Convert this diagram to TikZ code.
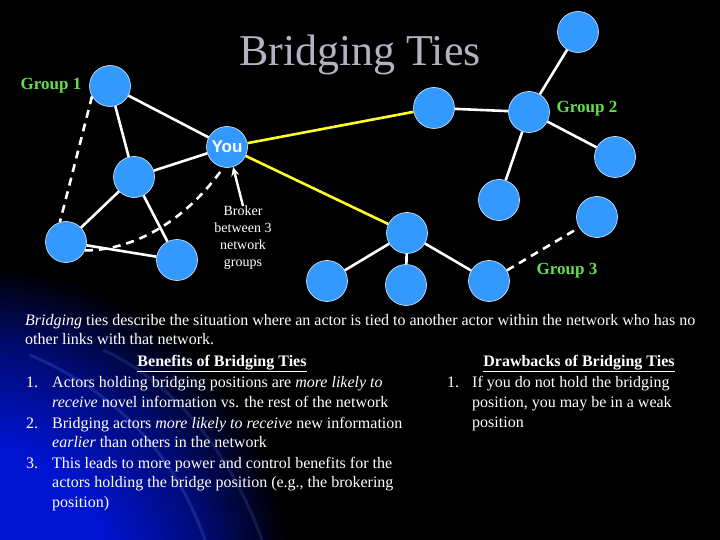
\documentclass[tikz,border=0pt]{standalone}
\usepackage{fontspec}
\setmainfont{Liberation Serif}
\newfontfamily\sansfont{Liberation Sans}
\usetikzlibrary{arrows.meta}
\definecolor{nodeblue}{RGB}{51,153,255}
\definecolor{grpgreen}{RGB}{102,221,80}
\definecolor{titlegray}{RGB}{178,178,194}
\definecolor{tieyellow}{RGB}{255,255,40}
\definecolor{bgblue}{RGB}{0,20,210}
\definecolor{bgmid}{RGB}{0,10,110}
\definecolor{swoosh}{RGB}{90,130,255}
\pgfdeclareradialshading{slideglow}{\pgfpoint{0bp}{0bp}}{color(0bp)=(bgblue); color(11bp)=(bgblue); color(19bp)=(bgmid); color(25bp)=(black); color(50bp)=(black)}
\begin{document}
\begin{tikzpicture}[x=1pt,y=-1pt,
  actor/.style={circle,fill=nodeblue,draw=white!85!nodeblue,line width=0.6pt,minimum size=41pt,inner sep=0pt},
  tie/.style={white,line width=2.6pt},
  weaktie/.style={white,line width=2.6pt,dash pattern=on 8pt off 6pt},
  bridge/.style={tieyellow,line width=2.6pt},
  grplabel/.style={text=grpgreen,font=\fontsize{17}{19}\selectfont\bfseries,inner sep=0pt},
  body/.style={text=white,font=\fontsize{16}{19}\selectfont,anchor=base west,inner sep=0pt},
  head/.style={text=white,font=\fontsize{16}{19}\selectfont\bfseries,anchor=base,inner sep=0pt},
  titlefont/.style={font=\fontsize{44}{48}\selectfont,inner sep=0pt},
  youlabel/.style={font=\sansfont\fontsize{17}{19}\selectfont\bfseries,text=white}]
% background
\fill[black] (0,0) rectangle (720,540);
\begin{scope}
\clip (0,0) rectangle (720,540);
\shade[shading=slideglow] (-30,585) circle (320);
\draw[swoosh,opacity=0.22,line width=3pt] (30,355) .. controls (100,385) and (170,440) .. (205,540);
\draw[swoosh,opacity=0.18,line width=3pt] (103,350) .. controls (170,380) and (230,450) .. (262,540);
\end{scope}
\useasboundingbox (0,0) rectangle (720,540);
% title
\node[titlefont,text=titlegray] (title) at (360,55) {Bridging Ties};
% node positions
\coordinate (p1a) at (110,86);
\coordinate (pyou) at (227,147);
\coordinate (p1b) at (134,177);
\coordinate (p1c) at (66,242);
\coordinate (p1d) at (177,260);
\coordinate (p2a) at (434,108);
\coordinate (p2b) at (529,112);
\coordinate (p2c) at (578,32);
\coordinate (p2d) at (615,157);
\coordinate (p2e) at (499,200);
\coordinate (p3a) at (407,233);
\coordinate (p3b) at (327,281);
\coordinate (p3c) at (406,285);
\coordinate (p3d) at (489,281);
\coordinate (p3e) at (597,217);
% group 1
\node[actor] (g1a) at (p1a) {};
\node[actor,youlabel] (you) at (pyou) {You};
\node[actor] (g1b) at (p1b) {};
\node[actor] (g1c) at (p1c) {};
\node[actor] (g1d) at (p1d) {};
% group 2
\node[actor] (g2a) at (p2a) {};
\node[actor] (g2b) at (p2b) {};
\node[actor] (g2c) at (p2c) {};
\node[actor] (g2d) at (p2d) {};
\node[actor] (g2e) at (p2e) {};
% group 3
\node[actor] (g3a) at (p3a) {};
\node[actor] (g3b) at (p3b) {};
\node[actor] (g3c) at (p3c) {};
\node[actor] (g3d) at (p3d) {};
\node[actor] (g3e) at (p3e) {};
% edges
\draw[tie] (g1a) -- (you);
\draw[tie] (g1a) -- (g1b);
\draw[tie] (g1b) -- (you);
\draw[tie] (g1b) -- (g1c);
\draw[tie] (g1b) -- (g1d);
\draw[tie] (g1c) -- (g1d);
\draw[weaktie] (g1a.210) -- (g1c.107);
\draw[weaktie] (g1c.336) .. controls (140,250) and (190,215) .. (you.260);
\draw[bridge] (you) -- (g2a);
\draw[bridge] (you) -- (g3a);
\draw[tie] (g2a) -- (g2b);
\draw[tie] (g2b) -- (g2c);
\draw[tie] (g2b) -- (g2d);
\draw[tie] (g2b) -- (g2e);
\draw[tie] (g3a) -- (g3b);
\draw[tie] (g3a) -- (g3c);
\draw[tie] (g3a) -- (g3d);
\draw[weaktie] (g3d) -- (g3e);
% labels
\node[grplabel] (lab1) at (51,86) {Group 1};
\node[grplabel] (lab2) at (587,109) {Group 2};
\node[grplabel] (lab3) at (567,271) {Group 3};
\node[text=white,font=\fontsize{14}{16.7}\selectfont,align=center,inner sep=0pt,anchor=north] (broker) at (243,206) {Broker\\between 3\\network\\groups};
\draw[white,line width=2.4pt,-{Stealth[length=9pt,width=8pt]}] (broker.north) -- (you.287);
% text
\node[body] (t1) at (25,325) {\textit{Bridging} ties describe the situation where an actor is tied to another actor within the network who has no};
\node[body] (t2) at (25,344) {other links with that network.};
\node[head] (h1) at (222,366) {\underline{Benefits of Bridging Ties}};
\node[head] (h2) at (579,366) {\underline{Drawbacks of Bridging Ties}};
\node[body] (n1) at (26,387) {1.};
\node[body] (l1) at (52,387) {Actors holding bridging positions are \textit{more likely to}};
\node[body] (l2) at (52,407) {\textit{receive} novel information vs. the rest of the network};
\node[body] (n2) at (26,428) {2.};
\node[body] (l3) at (52,428) {Bridging actors \textit{more likely to receive} new information};
\node[body] (l4) at (52,447) {\textit{earlier} than others in the network};
\node[body] (n3) at (26,468) {3.};
\node[body] (l5) at (52,468) {This leads to more power and control benefits for the};
\node[body] (l6) at (52,487) {actors holding the bridge position (e.g., the brokering};
\node[body] (l7) at (52,507) {position)};
\node[body] (m1) at (447,387) {1.};
\node[body] (r1) at (472,387) {If you do not hold the bridging};
\node[body] (r2) at (472,407) {position, you may be in a weak};
\node[body] (r3) at (472,427) {position};
\end{tikzpicture}
\end{document}
